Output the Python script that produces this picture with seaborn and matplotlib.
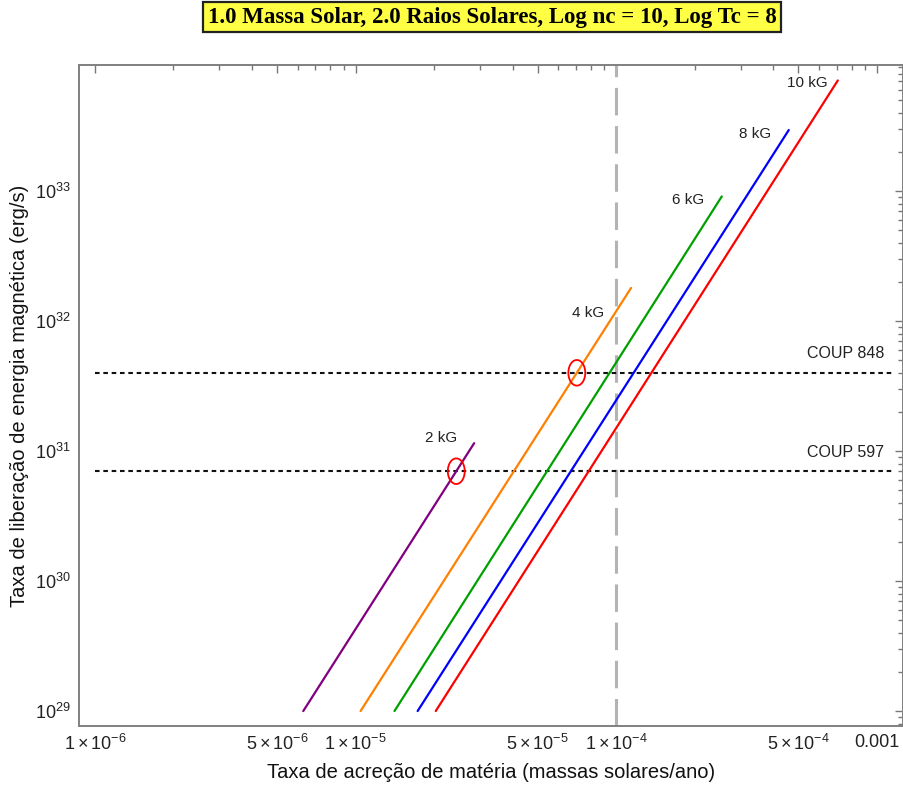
import numpy as np
import pandas as pd
import matplotlib
matplotlib.use("Agg")
import matplotlib.pyplot as plt
from matplotlib.path import Path
from matplotlib.ticker import FixedLocator, FixedFormatter, NullFormatter
import seaborn as sns

# Magnetic field strengths and the endpoints of each power-law curve
fields = ["2 kG", "4 kG", "6 kG", "8 kG", "10 kG"]
mdot_start = [6.3e-6, 1.045e-5, 1.41e-5, 1.73e-5, 2.03e-5]      # Msun/yr
mdot_end = [2.85e-5, 1.14e-4, 2.54e-4, 4.59e-4, 7.08e-4]
lum_start = [1e29, 1e29, 1e29, 1e29, 1e29]                     # erg/s
lum_end = [1.15e31, 1.8e32, 9.1e32, 2.95e33, 7.1e33]
colors = ["#800080", "#ff8000", "#00a000", "#0000ff", "#ff0000"]

# Observed sources (flare energy release rates)
coup_names = ["COUP 848", "COUP 597"]
coup_lum = [4.0e31, 7.0e30]
# Which curve is highlighted at each observed level
coup_curve = ["4 kG", "2 kG"]

mdot_ref = 1e-4

x_major = [1e-6, 5e-6, 1e-5, 5e-5, 1e-4, 5e-4, 1e-3]
x_major_labels = [r"$1\times10^{-6}$", r"$5\times10^{-6}$", r"$1\times10^{-5}$",
                  r"$5\times10^{-5}$", r"$1\times10^{-4}$", r"$5\times10^{-4}$", "0.001"]
y_major = [1e29, 1e30, 1e31, 1e32, 1e33]
y_major_labels = [r"$10^{29}$", r"$10^{30}$", r"$10^{31}$", r"$10^{32}$", r"$10^{33}$"]

sns.set_theme(style="white")
plt.rcParams["font.family"] = ["Liberation Sans", "DejaVu Sans"]
plt.rcParams["mathtext.fontset"] = "custom"
plt.rcParams["mathtext.rm"] = "Liberation Sans"
plt.rcParams["mathtext.it"] = "Liberation Sans:italic"
plt.rcParams["mathtext.bf"] = "Liberation Sans:bold"

rows = []
for f, x0, x1, y0, y1 in zip(fields, mdot_start, mdot_end, lum_start, lum_end):
    rows.append({"campo": f, "mdot": x0, "lum": y0})
    rows.append({"campo": f, "mdot": x1, "lum": y1})
df = pd.DataFrame(rows)

fig = plt.figure(figsize=(9.04, 7.87), dpi=100)
ax = fig.add_axes([79 / 904, 1 - 726 / 787, 824 / 904, 661 / 787])

ax.set_xscale("log")
ax.set_yscale("log")
ax.set_xlim(10 ** -6.061, 10 ** -2.900)
ax.set_ylim(10 ** 28.885, 10 ** 33.97)

# Observed levels
for lum in coup_lum:
    ax.plot([1e-6, 10 ** -2.94], [lum, lum], color="#111111", lw=1.5,
            linestyle=(0, (2.2, 1.8)), zorder=2)

# Reference accretion rate
ax.axvline(mdot_ref, color="#b3b3b3", lw=2.2, linestyle=(0, (9, 3.5)), zorder=1)

sns.lineplot(data=df, x="mdot", y="lum", hue="campo", palette=dict(zip(fields, colors)),
             estimator=None, sort=False, lw=1.6, legend=False, ax=ax, zorder=3)

# Curve labels
label_pos = {"2 kG": (2.12e-5, 1.27e31), "4 kG": (7.8e-5, 1.15e32),
             "6 kG": (1.88e-4, 8.6e32), "8 kG": (3.4e-4, 2.75e33),
             "10 kG": (5.4e-4, 6.8e33)}
for f in fields:
    x, y = label_pos[f]
    ax.text(x, y, f, ha="center", va="center", fontsize=11, color="#222222")

# Source labels
for name, lum in zip(coup_names, coup_lum):
    ax.text(10 ** -3.12, lum * 1.40, name, ha="center", va="center",
            fontsize=11.5, color="#222222")

# Red ellipses where the observed level meets the highlighted curve
t = np.linspace(0, 2 * np.pi, 60)
ell = Path(np.column_stack([0.66 * np.cos(t), np.sin(t)]))
for lum, f in zip(coup_lum, coup_curve):
    i = fields.index(f)
    lx = np.log10([mdot_start[i], mdot_end[i]])
    ly = np.log10([lum_start[i], lum_end[i]])
    xc = 10 ** np.interp(np.log10(lum), ly, lx)
    ax.scatter([xc], [lum], marker=ell, s=340, facecolors="none",
               edgecolors="#ff0000", linewidths=1.3, zorder=4)

# Ticks
ax.xaxis.set_major_locator(FixedLocator(x_major))
ax.xaxis.set_major_formatter(FixedFormatter(x_major_labels))
x_minor = [m * 10.0 ** e for e in range(-6, -2) for m in (2, 3, 4, 6, 7, 8, 9)]
ax.xaxis.set_minor_locator(FixedLocator(x_minor))
ax.xaxis.set_minor_formatter(NullFormatter())
ax.yaxis.set_major_locator(FixedLocator(y_major))
ax.yaxis.set_major_formatter(FixedFormatter(y_major_labels))
y_minor = [m * 10.0 ** e for e in range(28, 34) for m in range(2, 10)]
ax.yaxis.set_minor_locator(FixedLocator(y_minor))
ax.yaxis.set_minor_formatter(NullFormatter())

ax.tick_params(which="both", direction="in", top=True, right=True,
               color="#777777", labelcolor="#222222", width=1.0)
ax.tick_params(axis="x", labelsize=13)
ax.tick_params(axis="y", labelsize=13)
ax.tick_params(which="major", length=6, pad=6)
ax.tick_params(which="minor", length=3.5)
for s in ax.spines.values():
    s.set_color("#808080")
    s.set_linewidth(1.4)

ax.set_xlabel("Taxa de acreção de matéria (massas solares/ano)", fontsize=14.5, color="#111111",
              labelpad=6)
ax.set_ylabel("Taxa de liberação de energia magnética (erg/s)", fontsize=14.5, color="#111111",
              labelpad=4)

fig.text(492 / 904, 1 - 17 / 787, "1.0 Massa Solar, 2.0 Raios Solares, Log nc = 10, Log Tc = 8",
         ha="center", va="center", fontsize=16.5, fontweight="bold",
         family=["Liberation Serif", "DejaVu Serif"], color="black",
         bbox=dict(boxstyle="square,pad=0.2", facecolor="#ffff44", edgecolor="#222222", lw=1.6))

fig.savefig("out.png", dpi=100)
